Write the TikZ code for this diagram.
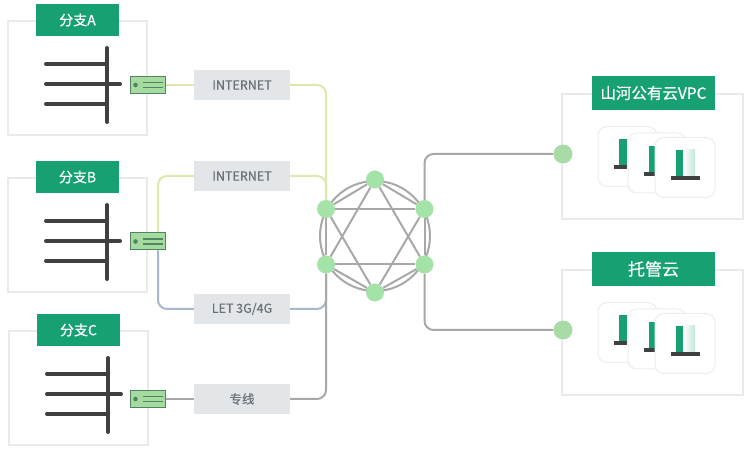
\documentclass[tikz,border=0pt]{standalone}
\usepackage{fontspec}
\setmainfont{Noto Sans CJK SC}
\newfontfamily\heavyfont[FakeBold=0.5]{Noto Sans CJK SC}
\usetikzlibrary{positioning,backgrounds}
\definecolor{titlegreen}{HTML}{17A071}
\definecolor{framegray}{HTML}{E9EBEA}
\definecolor{tagfill}{HTML}{E3E6E8}
\definecolor{tagtext}{HTML}{6C7176}
\definecolor{hubgreen}{HTML}{A4E3A8}
\definecolor{dotgreen}{HTML}{A9DBA6}
\definecolor{linkgray}{HTML}{A8A8A8}
\definecolor{linkyellow}{HTML}{DFE7AC}
\definecolor{linkblue}{HTML}{A9B6CB}
\definecolor{bardark}{HTML}{404040}
\definecolor{routerfill}{HTML}{A6DB9F}
\definecolor{routerline}{HTML}{4F8560}
\tikzset{
    frame/.style={rectangle, draw=framegray, line width=2pt, inner sep=0pt},
    title/.style={rectangle, fill=titlegreen, text=white, inner sep=0pt, minimum height=32pt, font=\fontsize{14}{14}\selectfont\heavyfont},
    cloudtitle/.style={title, minimum width=123pt, minimum height=34pt},
    tag/.style={rectangle, fill=tagfill, text=tagtext, inner sep=0pt, minimum width=96pt, minimum height=30pt, font=\fontsize{12.5}{13}\selectfont\heavyfont},
    router/.style={rectangle, draw=routerline, fill=routerfill, line width=1pt, inner sep=0pt, minimum width=35pt, minimum height=17pt},
    hub/.style={circle, fill=hubgreen, inner sep=0pt, minimum size=18pt},
    port/.style={circle, fill=dotgreen, inner sep=0pt, minimum size=19pt},
    card/.style={rectangle, draw=black!7, fill=white, line width=1pt, rounded corners=9pt, inner sep=0pt, minimum width=59pt, minimum height=60pt},
    link/.style={draw=linkgray, line width=2pt, rounded corners=9pt},
    mesh/.style={draw=linkgray, line width=2pt},
    bar/.style={draw=bardark, line width=4pt, line cap=round}
}

\begin{document}
\begin{tikzpicture}[x=1pt, y=-1pt]
    \useasboundingbox (0,0) rectangle (753,454);

    % branches
    \foreach \name/\txt/\xx/\yy in {a/A/0/0, b/B/0/157, c/C/1/310} {
        \node [frame, minimum width=139pt, minimum height=114pt] (box\name) at (77.5+\xx,78.5+\yy) {};
        \node [title, minimum width=83pt] (title\name) at (77.5+\xx,20+\yy) {分支\txt};
        \draw [bar] (107+\xx,48+\yy) -- (107+\xx,122+\yy);
        \draw [bar] (46+\xx,64+\yy) -- (107+\xx,64+\yy);
        \draw [bar] (46+\xx,84+\yy) -- (120+\xx,84+\yy);
        \draw [bar] (46+\xx,104+\yy) -- (107+\xx,104+\yy);
    }

    % routers
    \foreach \name/\yy in {ra/85, rb/241.5, rc/399} {
        \node [router] (\name) at (148,\yy) {};
        \fill [routerline] (\name.west) ++(5.5,0) circle (2.3pt);
        \draw [routerline, line width=1.6pt] (\name.center) ++(-5,-2.5) -- ++(20,0);
        \draw [routerline, line width=1.6pt] (\name.center) ++(-5,2.5) -- ++(20,0);
    }

    % link labels
    \node [tag] (neta) at (242,85) {INTERNET};
    \node [tag] (netb) at (242,176) {INTERNET};
    \node [tag] (let) at (242,309) {LET 3G/4G};
    \node [tag] (line) at (242,399) {专线};

    % hub
    \node [circle, draw=linkgray, line width=2pt, inner sep=0pt, minimum size=110pt] (ring) at (375,236) {};
    \node [hub] (ht) at (375,179.5) {};
    \node [hub] (hur) at (424.5,209) {};
    \node [hub] (hlr) at (424.5,264.5) {};
    \node [hub] (hb) at (375,292.5) {};
    \node [hub] (hll) at (326,264.5) {};
    \node [hub] (hul) at (326,209) {};

    % clouds
    \foreach \name/\txt/\size/\yy in {vpc/山河公有云VPC/15.5/0, idc/托管云/17/176} {
        \node [frame, minimum width=181pt, minimum height=125pt] (box\name) at (652.5,156.5+\yy) {};
        \node [cloudtitle] (title\name) at (653.5,93+\yy) {\fontsize{\size}{\size}\selectfont\txt};
        \node [port] (port\name) at (563,154+\yy) {};
        \node [card] (carda\name) at (627.5,156.5+\yy) {};
        \fill [titlegreen] (619,139+\yy) rectangle (626.5,165+\yy);
        \fill [bardark] (614,165+\yy) rectangle (627,169+\yy);
        \node [card, minimum width=58pt] (cardb\name) at (657,163+\yy) {};
        \fill [titlegreen] (649,146+\yy) rectangle (654.5,172+\yy);
        \fill [bardark] (644,172+\yy) rectangle (654.5,176+\yy);
        \node [card, minimum width=60pt] (cardc\name) at (685,167.5+\yy) {};
        \fill [titlegreen] (676,150+\yy) rectangle (683,177+\yy);
        \shade [left color=white, right color=titlegreen!25] (683,150+\yy) rectangle (695,177+\yy);
        \fill [bardark] (671,176.5+\yy) rectangle (700,180+\yy);
    }

    \begin{scope}[on background layer]
        \foreach \a/\b in {ht/hur, hur/hlr, hlr/hb, hb/hll, hll/hul, hul/ht, hul/hur, hll/hlr, ht/hll, ht/hlr, hb/hul, hb/hur}
            \draw [mesh] (\a) -- (\b);

        \path [link, draw=linkyellow] (ra) -- (neta);
        \path [link, draw=linkyellow] (neta.east) -| (hul.north);
        \path [link, draw=linkyellow] ([xshift=10pt]rb.north) |- (netb.west);
        \path [link, draw=linkyellow] (netb.east) -| (hul.north);
        \path [link, draw=linkblue] ([xshift=10pt]rb.south) |- (let.west);
        \path [link, draw=linkblue] (let.east) -| (hll.south);
        \path [link] (rc) -- (line);
        \path [link] (line.east) -| (hll.south);
        \path [link] (hur.north) |- (portvpc.west);
        \path [link] (hlr.south) |- (portidc.west);
    \end{scope}
\end{tikzpicture}
\end{document}
